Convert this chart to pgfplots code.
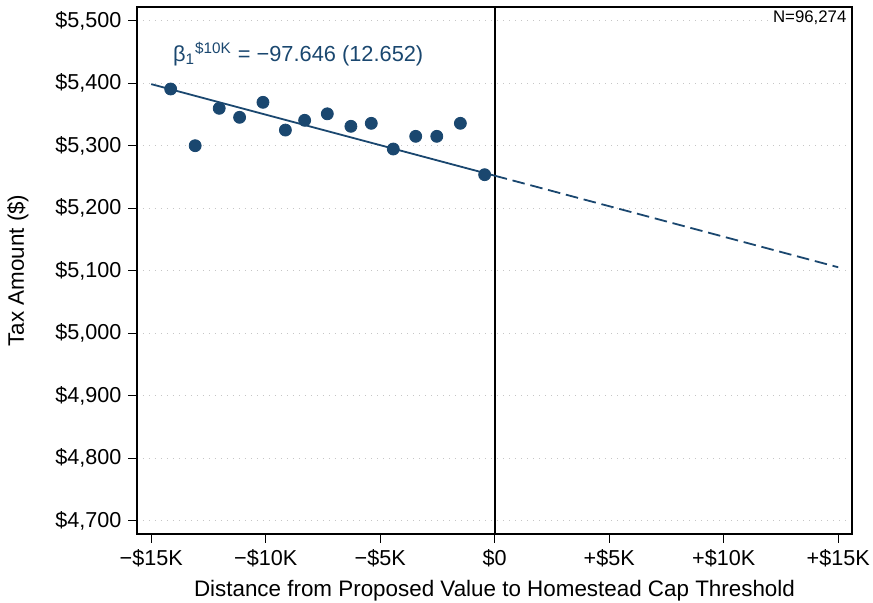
\documentclass[border=0pt]{standalone}
\usepackage{pgfplots}
\pgfplotsset{compat=1.18}
\usepackage{fontspec}
\setmainfont{Liberation Sans}
\definecolor{statanavy}{RGB}{26,71,111}

\begin{document}
\begin{tikzpicture}
\begin{axis}[
  scale only axis,
  width=357.5pt, height=263.5pt,
  xmin=-15.62, xmax=15.6,
  ymin=4678.7, ymax=5521.9,
  xtick={-15,-10,-5,0,5,10,15},
  xticklabels={{−\$15K},{−\$10K},{−\$5K},{\$0},{+\$5K},{+\$10K},{+\$15K}},
  ytick={4700,4800,4900,5000,5100,5200,5300,5400,5500},
  yticklabels={{\$4,700},{\$4,800},{\$4,900},{\$5,000},{\$5,100},{\$5,200},{\$5,300},{\$5,400},{\$5,500}},
  xtick pos=lower, ytick pos=left,
  tick align=outside, major tick length=4.25pt,
  tick style={black, line width=0.6pt},
  axis line style={black, line width=0.75pt},
  ymajorgrids,
  grid style={gray!45, line width=0.5pt, dash pattern=on 0.5pt off 2.5pt},
  tick label style={font=\fontsize{10.8}{12}\selectfont},
  label style={font=\fontsize{11.2}{13}\selectfont},
  xlabel={Distance from Proposed Value to Homestead Cap Threshold},
  ylabel={Tax Amount (\$)},
  xlabel style={at={(axis description cs:0.5,-0.108)}, anchor=center},
  ylabel style={at={(axis description cs:-0.1664,0.5)}, anchor=center},
  clip=false,
]
% threshold marker
\addplot[black, line width=0.8pt] coordinates {(0,4678.7) (0,5521.9)};

% linear fit below the threshold and its extrapolation above it
\addplot[statanavy, line width=0.9pt] coordinates {(-15,5398.5) (0,5252)};
\addplot[statanavy, line width=0.9pt, dash pattern=on 6.3pt off 2.9pt] coordinates {(0,5252) (15,5105.5)};

% binned means
\addplot[only marks, mark=*, mark size=3pt, statanavy] coordinates {
  (-14.15,5390.7) (-13.08,5300) (-12.03,5359.8) (-11.14,5345.4)
  (-10.12,5369.4) (-9.14,5325) (-8.30,5340.6) (-7.31,5351)
  (-6.28,5331) (-5.39,5335.8) (-4.43,5294.7) (-3.45,5315)
  (-2.53,5315) (-1.50,5335.8) (-0.44,5253.6)
};

\node[anchor=base west, inner sep=0pt, text=statanavy, font=\fontsize{10.9}{13}\selectfont]
  at (axis cs:-14.06,5435.5) {β\textsubscript{1}\textsuperscript{\$10K} = −97.646 (12.652)};
\node[anchor=north east, fill=white, inner sep=1pt, xshift=-1.6pt, yshift=-0.6pt,
  font=\fontsize{8.4}{10}\selectfont] at (rel axis cs:1,1) {N=96,274};
\end{axis}
\pgfresetboundingbox
\path ([shift={(-68.5pt,-34pt)}]current axis.south west)
  rectangle ([shift={(10.5pt,3.5pt)}]current axis.north east);
\end{tikzpicture}
\end{document}
